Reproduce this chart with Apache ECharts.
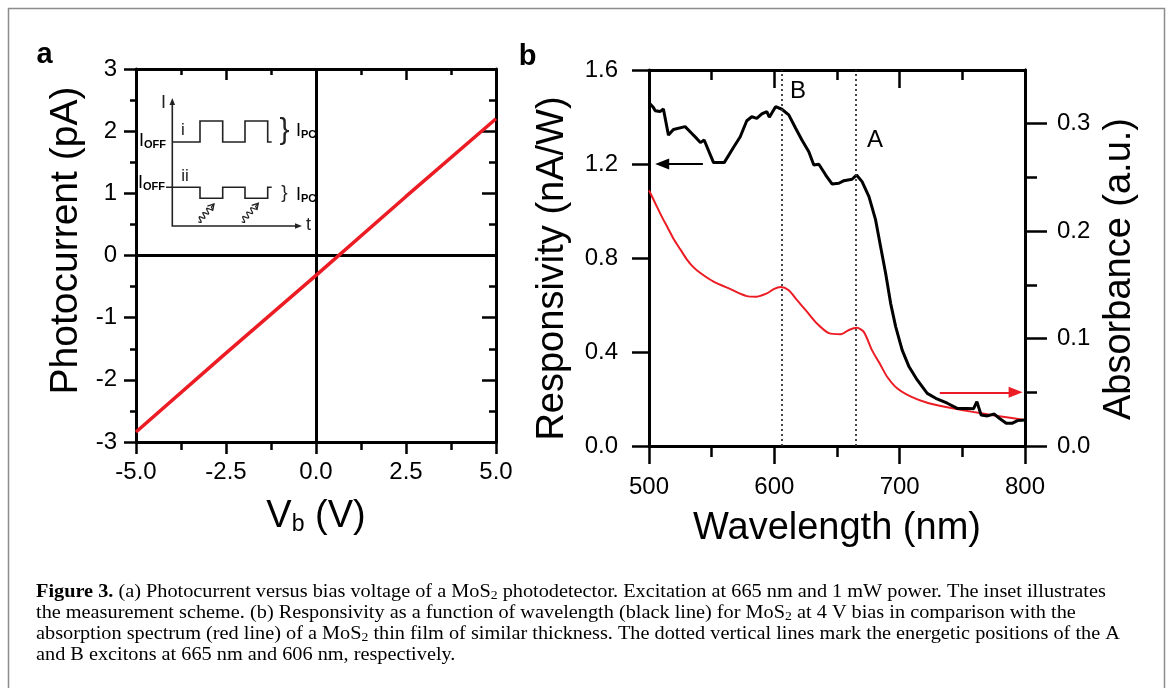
<!DOCTYPE html>
<html>
<head>
<meta charset="utf-8">
<script src="https://cdn.jsdelivr.net/npm/echarts@6/dist/echarts.min.js"></script>
<style>
  html, body { margin: 0; padding: 0; background: #fff; }
  #chart { width: 1171px; height: 688px; }
</style>
</head>
<body>
<div id="chart"></div>
<script>
// (a) photocurrent vs bias voltage
var biasV = [-5, -2.5, 0, 2.5, 5];
var photoCurrent = [-2.84, -1.57, -0.32, 0.95, 2.2];

// (b) responsivity (black, left axis)
var respWl = [500, 503, 505, 508.8, 511.5, 515.5, 519.5, 528.8, 534, 538, 541, 544, 551.5, 560, 567.5, 572.8,
  578, 582, 586, 590, 594, 596, 601, 606, 611.5, 617, 622, 627.5, 631.5, 635.5, 641, 646, 651.5, 655.5, 662,
  665.6, 670, 675.5, 680.8, 684.8, 688.8, 692.8, 696.8, 702, 707.5, 714, 722, 728.8, 738, 746, 754, 759,
  761.6, 765, 770, 775.5, 779.5, 785, 790, 794, 800];
var respVal = [1.461, 1.444, 1.427, 1.423, 1.434, 1.323, 1.347, 1.359, 1.331, 1.309, 1.291, 1.302, 1.206, 1.206,
  1.271, 1.316, 1.384, 1.401, 1.394, 1.413, 1.423, 1.399, 1.444, 1.433, 1.409, 1.352, 1.302, 1.252, 1.196,
  1.199, 1.153, 1.115, 1.118, 1.129, 1.135, 1.153, 1.125, 1.061, 0.962, 0.848, 0.735, 0.607, 0.508, 0.408,
  0.337, 0.281, 0.224, 0.203, 0.182, 0.160, 0.160, 0.159, 0.189, 0.132, 0.128, 0.136, 0.118, 0.097, 0.097,
  0.108, 0.111];

// (b) absorbance (red, right axis)
var absWl = [500, 505, 510, 515, 520, 525, 530, 535, 541, 551.5, 565, 578, 586, 594, 599.5, 605, 611.5, 618,
  626, 634, 643.5, 653, 659.5, 666, 671.5, 678, 684, 690, 698, 709, 722, 738, 757, 778, 800];
var absVal = [0.238, 0.226, 0.214, 0.203, 0.192, 0.183, 0.174, 0.167, 0.161, 0.153, 0.146, 0.1395, 0.139, 0.142,
  0.146, 0.148, 0.145, 0.136, 0.125, 0.114, 0.105, 0.104, 0.108, 0.110, 0.106, 0.089, 0.077, 0.0645, 0.0537,
  0.0459, 0.0403, 0.036, 0.032, 0.028, 0.0242];

// exciton positions (nm) and their labels
var excitonWl = [606, 665];
var excitonNames = ['B', 'A'];
var excitonLabelPos = [[618.8, 1.509], [680.4, 1.302]];

var absTicks = [0, 0.1, 0.2, 0.3];
var absMinorTicks = [0.05, 0.15, 0.25];

var captionLines = [
  '{b|Figure 3.}{r| (a) Photocurrent versus bias voltage of a MoS}{s|2}{r| photodetector. Excitation at 665 nm and 1 mW power. The inset illustrates}',
  '{r|the measurement scheme. (b) Responsivity as a function of wavelength (black line) for MoS}{s|2}{r| at 4 V bias in comparison with the}',
  '{r|absorption spectrum (red line) of a MoS}{s|2}{r| thin film of similar thickness. The dotted vertical lines mark the energetic positions of the A}',
  '{r|and B excitons at 665 nm and 606 nm, respectively.}'
];

var FONT = 'Liberation Sans';
var SERIF = 'Liberation Serif';
var RED = '#ec1c24';
var CAP_SIZE = 18.5;

var chart = echarts.init(document.getElementById('chart'));

function pairs(xs, ys) {
  return xs.map(function (x, i) { return [x, ys[i]]; });
}
function fix1(v) { return v.toFixed(1); }

function axis(extra) {
  var base = {
    type: 'value',
    axisLine: { show: true, onZero: false, lineStyle: { color: '#000', width: 3 } },
    axisTick: { show: true, length: 12, lineStyle: { color: '#000', width: 2.5 } },
    minorTick: { show: false },
    splitLine: { show: false },
    axisLabel: { show: true, fontFamily: FONT, fontSize: 24, color: '#000' },
    nameTextStyle: { fontFamily: FONT, fontSize: 38, color: '#000', verticalAlign: 'middle' }
  };
  return echarts.util.merge(base, extra, true);
}

// caption: squeeze horizontally so line 1 spans the same width as in the figure
var ctx = document.createElement('canvas').getContext('2d');
ctx.font = CAP_SIZE + 'px "' + SERIF + '"';
var plain1 = captionLines[0].replace(/\{\w+\|([^}]*)\}/g, '$1');
var capScale = 1069 / ctx.measureText(plain1).width;

var capRich = {
  b: { fontFamily: SERIF, fontSize: CAP_SIZE, fontWeight: 'bold', color: '#222', lineHeight: 21, verticalAlign: 'bottom' },
  r: { fontFamily: SERIF, fontSize: CAP_SIZE, color: '#222', lineHeight: 21, verticalAlign: 'bottom' },
  s: { fontFamily: SERIF, fontSize: 12.5, color: '#222', lineHeight: 7, verticalAlign: 'bottom' }
};
function subRich(size, sub) {
  return {
    m: { fontFamily: FONT, fontSize: size, color: '#222', lineHeight: size, verticalAlign: 'bottom' },
    s: { fontFamily: FONT, fontSize: sub, fontWeight: 'bold', color: '#222', lineHeight: sub * 0.7, verticalAlign: 'bottom' }
  };
}

// wavy light arrow of the inset
function squiggle(x0, y0, x1, y1) {
  var dx = x1 - x0, dy = y1 - y0, len = Math.sqrt(dx * dx + dy * dy);
  var ux = dx / len, uy = dy / len, px = -uy, py = ux;
  var body = len - 4, pts = [];
  for (var i = 0; i <= 30; i++) {
    var t = body * i / 30;
    var off = 2.6 * Math.sin(i / 30 * Math.PI * 2 * 3.5);
    pts.push([x0 + ux * t + px * off, y0 + uy * t + py * off]);
  }
  pts.push([x1, y1]);
  var head = [[x1 - ux * 6 + px * 3.5, y1 - uy * 6 + py * 3.5], [x1, y1], [x1 - ux * 6 - px * 3.5, y1 - uy * 6 - py * 3.5]];
  return [
    { type: 'polyline', shape: { points: pts }, style: { stroke: '#222', lineWidth: 1.2, fill: null } },
    { type: 'polyline', shape: { points: head }, style: { stroke: '#222', lineWidth: 1.3, fill: null } }
  ];
}

function label(x, y, text, size, align) {
  return { type: 'text', x: x, y: y, style: { text: text, font: size + 'px "' + FONT + '"', fill: '#222', align: align || 'center', verticalAlign: 'middle' } };
}

var ink = { stroke: '#222', lineWidth: 1.6, fill: null };
var inset = [
  { type: 'polyline', shape: { points: [[172.3, 104], [172.3, 226], [296, 226]] }, style: ink },
  { type: 'polygon', shape: { points: [[172.3, 98], [169.5, 105], [175.1, 105]] }, style: { fill: '#222' } },
  { type: 'polygon', shape: { points: [[302, 226], [295, 223.2], [295, 228.8]] }, style: { fill: '#222' } },
  { type: 'polyline', shape: { points: [[172.3, 142], [200, 142], [200, 121], [222.7, 121], [222.7, 142], [245, 142],
    [245, 121], [267.7, 121], [267.7, 142], [271.7, 142]] }, style: ink },
  { type: 'polyline', shape: { points: [[166, 187.3], [200, 187.3], [200, 198.3], [222.7, 198.3], [222.7, 187.3],
    [245, 187.3], [245, 198.3], [267.7, 198.3], [267.7, 187.3], [271.7, 187.3]] }, style: ink },
  label(163.5, 103, 'I', 18),
  label(306, 225, 't', 18, 'left'),
  label(183, 130, 'i', 17),
  label(185, 176, 'ii', 17),
  { type: 'text', x: 166, y: 141.5, style: { text: '{m|I}{s|OFF}', rich: subRich(18, 11), align: 'right', verticalAlign: 'middle' } },
  { type: 'text', x: 165, y: 183.5, style: { text: '{m|I}{s|OFF}', rich: subRich(18, 11), align: 'right', verticalAlign: 'middle' } },
  { type: 'text', x: 296, y: 131.5, style: { text: '{m|I}{s|PC}', rich: subRich(18, 11), align: 'left', verticalAlign: 'middle' } },
  { type: 'text', x: 296, y: 195, style: { text: '{m|I}{s|PC}', rich: subRich(18, 11), align: 'left', verticalAlign: 'middle' } },
  label(284.5, 131, '}', 30),
  label(284.5, 193, '}', 19)
].concat(squiggle(198.3, 221.7, 214, 204), squiggle(241.7, 221.7, 258.3, 203.3));

var graphics = [
  { type: 'rect', shape: { x: 8.5, y: 8.5, width: 1156, height: 700 }, style: { fill: null, stroke: '#8c8c8c', lineWidth: 1.5 }, silent: true },
  { type: 'text', x: 44.5, y: 69, style: { text: 'a', font: 'bold 29px "' + FONT + '"', fill: '#000', align: 'center', verticalAlign: 'bottom' } },
  { type: 'text', x: 527.5, y: 71, style: { text: 'b', font: 'bold 29px "' + FONT + '"', fill: '#000', align: 'center', verticalAlign: 'bottom' } }
].concat(inset);

captionLines.forEach(function (line, i) {
  graphics.push({
    type: 'text', x: 36, y: 581 + 21 * i, scaleX: capScale, scaleY: 1,
    style: { text: line, rich: capRich, align: 'left', verticalAlign: 'top' }
  });
});

var option = {
  animation: false,
  backgroundColor: '#fff',
  grid: [
    { left: 136, top: 69, width: 360, height: 373, containLabel: false, outerBoundsMode: 'none' },
    { left: 649, top: 70, width: 376, height: 376, containLabel: false, outerBoundsMode: 'none' }
  ],
  xAxis: [
    axis({
      gridIndex: 0, position: 'bottom', min: -5, max: 5, interval: 2.5,
      minorTick: { show: true, splitNumber: 2, length: 8, lineStyle: { color: '#000', width: 2.5 } },
      axisLabel: { margin: 18, formatter: fix1 },
      name: '{m|V}{s|b}{m| (V)}', nameLocation: 'middle', nameGap: 71,
      nameTextStyle: { rich: {
        m: { fontFamily: FONT, fontSize: 38, color: '#000', lineHeight: 46, verticalAlign: 'bottom' },
        s: { fontFamily: FONT, fontSize: 23, color: '#000', lineHeight: 12, verticalAlign: 'bottom' }
      } }
    }),
    axis({
      gridIndex: 0, position: 'top', min: -5, max: 5, interval: 2.5,
      axisTick: { inside: true, length: 11 },
      minorTick: { show: true, splitNumber: 2, length: 6, lineStyle: { color: '#000', width: 2.5 } },
      axisLabel: { show: false }
    }),
    axis({
      gridIndex: 1, position: 'bottom', min: 500, max: 800, interval: 100,
      axisTick: { length: 18 },
      minorTick: { show: true, splitNumber: 2, length: 11, lineStyle: { color: '#000', width: 2.5 } },
      axisLabel: { margin: 29 },
      name: 'Wavelength (nm)', nameLocation: 'middle', nameGap: 83
    }),
    axis({
      gridIndex: 1, position: 'top', min: 500, max: 800, interval: 100,
      axisTick: { inside: true, length: 18 },
      minorTick: { show: true, splitNumber: 2, length: 10, lineStyle: { color: '#000', width: 2.5 } },
      axisLabel: { show: false }
    })
  ],
  yAxis: [
    axis({
      gridIndex: 0, position: 'left', min: -3, max: 3, interval: 1,
      minorTick: { show: true, splitNumber: 2, length: 6, lineStyle: { color: '#000', width: 2.5 } },
      axisLabel: { margin: 19 },
      name: 'Photocurrent (pA)', nameLocation: 'middle', nameRotate: 90, nameGap: 70,
      nameTextStyle: { fontSize: 39, padding: [0, 0, 0, 30] }
    }),
    axis({
      gridIndex: 0, position: 'right', min: -3, max: 3, interval: 1,
      axisTick: { inside: true, length: 14 },
      minorTick: { show: true, splitNumber: 2, length: 7, lineStyle: { color: '#000', width: 2.5 } },
      axisLabel: { show: false }
    }),
    axis({
      gridIndex: 1, position: 'left', min: 0, max: 1.6, interval: 0.4,
      axisTick: { length: 17 },
      axisLabel: { margin: 31, formatter: fix1 },
      name: 'Responsivity (nA/W)', nameLocation: 'middle', nameRotate: 90, nameGap: 96,
      nameTextStyle: { padding: [0, 21, 0, 0] }
    }),
    axis({
      gridIndex: 1, position: 'right', min: 0, max: 0.35, interval: 0.05,
      axisTick: { length: 22, customValues: absTicks },
      axisLabel: { margin: 32, formatter: fix1, customValues: absTicks },
      name: 'Absorbance (a.u.)', nameLocation: 'middle', nameRotate: 90, nameGap: 95,
      nameTextStyle: { padding: [0, 22, 0, 0] }
    }),
    axis({
      gridIndex: 1, position: 'right', min: 0, max: 0.35, interval: 0.05,
      axisTick: { length: 12, customValues: absMinorTicks },
      axisLabel: { show: false }
    })
  ],
  graphic: { elements: graphics },
  series: [
    {
      name: 'Photocurrent', type: 'line', xAxisIndex: 0, yAxisIndex: 0, z: 3,
      data: pairs(biasV, photoCurrent), showSymbol: false, silent: true,
      lineStyle: { color: RED, width: 3.5 },
      markLine: {
        z: 1, silent: true, symbol: 'none', label: { show: false },
        lineStyle: { color: '#000', width: 3, type: 'solid' },
        data: [{ xAxis: 0 }, { yAxis: 0 }]
      }
    },
    {
      name: 'Responsivity', type: 'line', xAxisIndex: 2, yAxisIndex: 2, z: 3,
      data: pairs(respWl, respVal), showSymbol: false, silent: true,
      lineStyle: { color: '#000', width: 3 },
      markLine: {
        silent: true, symbol: 'none', label: { show: false },
        data: excitonWl.map(function (w) {
          return { xAxis: w, lineStyle: { color: '#333', width: 1.8, type: [2, 3] } };
        }).concat([[
          { coord: [543, 1.2], lineStyle: { color: '#000', width: 2, type: 'solid' } },
          { coord: [510.5, 1.2], symbol: 'triangle', symbolSize: [11, 14] }
        ]])
      },
      markPoint: {
        silent: true, symbol: 'circle', symbolSize: 0,
        label: { show: true, position: 'inside', formatter: '{b}', fontFamily: FONT, fontSize: 24, color: '#000' },
        data: excitonNames.map(function (n, i) { return { name: n, coord: excitonLabelPos[i] }; })
      }
    },
    {
      name: 'Absorbance', type: 'line', xAxisIndex: 2, yAxisIndex: 3, z: 2,
      data: pairs(absWl, absVal), showSymbol: false, silent: true, smooth: 0.25,
      lineStyle: { color: RED, width: 2 },
      markLine: {
        silent: true, symbol: 'none', label: { show: false },
        data: [[
          { coord: [732, 0.05], lineStyle: { color: RED, width: 2, type: 'solid' } },
          { coord: [792.5, 0.05], symbol: 'triangle', symbolSize: [11, 14], itemStyle: { color: RED } }
        ]]
      }
    }
  ]
};

chart.setOption(option);
</script>
</body>
</html>
